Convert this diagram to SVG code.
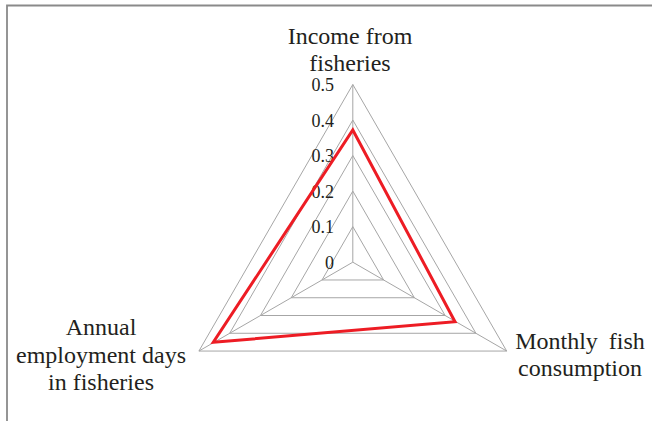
<svg xmlns="http://www.w3.org/2000/svg" width="652" height="421" viewBox="0 0 652 421">
<style>
.grid{fill:none;stroke:#a6a6a6;stroke-width:1}
.data{fill:none;stroke:#ed1c24;stroke-width:3;stroke-linejoin:miter}
.lbl{font-family:"Liberation Serif","Times New Roman",serif;font-size:24px;fill:#231f20;text-anchor:middle}
.tick{font-family:"Liberation Serif","Times New Roman",serif;font-size:18px;fill:#231f20;text-anchor:end}
.frame{fill:none;stroke:#8a8a8a;stroke-width:1.8}
</style>
<rect width="652" height="421" fill="#ffffff"/>
<path class="frame" d="M7,421 V5.5 H652"/>
<g id="grid">
<polygon class="grid" points="352.8,226.66 383.58,279.97 322.02,279.97"/>
<polygon class="grid" points="352.8,191.12 414.36,297.74 291.24,297.74"/>
<polygon class="grid" points="352.8,155.58 445.13,315.51 260.47,315.51"/>
<polygon class="grid" points="352.8,120.04 475.91,333.28 229.69,333.28"/>
<polygon class="grid" points="352.8,84.5 506.69,351.05 198.91,351.05"/>
</g>
<g id="connectors">
<line class="grid" x1="352.8" y1="262.2" x2="352.8" y2="84.5"/>
<line class="grid" x1="352.8" y1="262.2" x2="506.69" y2="351.05"/>
<line class="grid" x1="352.8" y1="262.2" x2="198.91" y2="351.05"/>
</g>
<g id="ticks">
<text class="tick" x="334" y="268.5">0</text>
<text class="tick" x="334" y="233">0.1</text>
<text class="tick" x="334" y="197.5">0.2</text>
<text class="tick" x="334" y="162">0.3</text>
<text class="tick" x="334" y="126.5">0.4</text>
<text class="tick" x="334" y="91">0.5</text>
</g>
<g id="series">
<polygon class="data" points="352.8,130 455,321.7 213.3,342.3"/>
</g>
<g id="node-income">
<text class="lbl" x="350" y="43.5">Income from</text>
<text class="lbl" x="350" y="70.5">fisheries</text>
</g>
<g id="node-consumption">
<text class="lbl" x="580" y="349" word-spacing="5">Monthly fish</text>
<text class="lbl" x="580" y="376">consumption</text>
</g>
<g id="node-employment">
<text class="lbl" x="101" y="335">Annual</text>
<text class="lbl" x="101" y="362.5">employment days</text>
<text class="lbl" x="101" y="390">in fisheries</text>
</g>
</svg>
